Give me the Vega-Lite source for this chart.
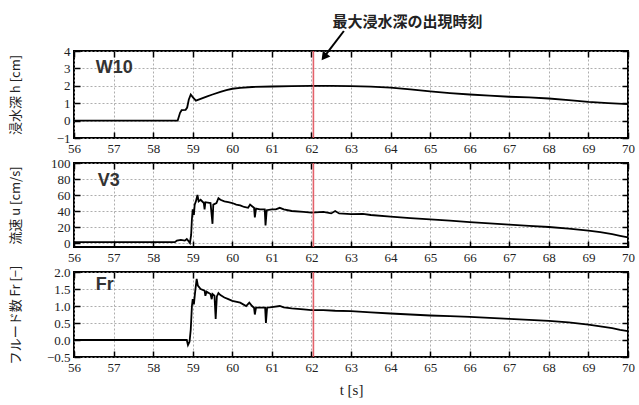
{
  "$schema": "https://vega.github.io/schema/vega-lite/v6.json",
  "background": "white",
  "padding": {"left": 8, "top": 13, "right": 5, "bottom": 2},
  "config": {
    "view": {"stroke": "black", "strokeWidth": 2},
    "axis": {"domain": false, "ticks": true, "tickColor": "black", "tickWidth": 1.5, "tickOpacity": 1, "labelOverlap": false, "labelFlush": false, "zindex": 1}
  },
  "datasets": {
    "w10": [
      {"t": 56.0, "h": 0}, {"t": 58.62, "h": 0}, {"t": 58.68, "h": 0.45}, {"t": 58.72, "h": 0.6},
      {"t": 58.82, "h": 0.62}, {"t": 58.86, "h": 0.75}, {"t": 58.9, "h": 1.2}, {"t": 58.95, "h": 1.5},
      {"t": 59.0, "h": 1.35}, {"t": 59.08, "h": 1.15}, {"t": 59.2, "h": 1.25}, {"t": 59.35, "h": 1.38},
      {"t": 59.5, "h": 1.5}, {"t": 59.7, "h": 1.65}, {"t": 59.85, "h": 1.75}, {"t": 60.0, "h": 1.83},
      {"t": 60.2, "h": 1.88}, {"t": 60.5, "h": 1.93}, {"t": 61.0, "h": 1.96}, {"t": 61.5, "h": 1.98},
      {"t": 62.0, "h": 2.0}, {"t": 62.5, "h": 2.0}, {"t": 63.0, "h": 1.98}, {"t": 63.5, "h": 1.95},
      {"t": 64.0, "h": 1.9}, {"t": 64.5, "h": 1.8}, {"t": 65.0, "h": 1.68}, {"t": 65.5, "h": 1.58},
      {"t": 66.0, "h": 1.5}, {"t": 66.5, "h": 1.43}, {"t": 67.0, "h": 1.37}, {"t": 67.5, "h": 1.33},
      {"t": 68.0, "h": 1.27}, {"t": 68.5, "h": 1.18}, {"t": 69.0, "h": 1.08}, {"t": 69.5, "h": 1.01},
      {"t": 70.0, "h": 0.95}
    ],
    "v3": [
      {"t": 56.0, "u": 1}, {"t": 57.0, "u": 1}, {"t": 58.0, "u": 1}, {"t": 58.55, "u": 1},
      {"t": 58.6, "u": 3}, {"t": 58.7, "u": 4}, {"t": 58.8, "u": 3}, {"t": 58.85, "u": 5},
      {"t": 58.9, "u": 2}, {"t": 58.93, "u": 0}, {"t": 58.96, "u": 10}, {"t": 58.98, "u": 30},
      {"t": 59.0, "u": 42}, {"t": 59.03, "u": 35}, {"t": 59.05, "u": 48}, {"t": 59.08, "u": 52},
      {"t": 59.12, "u": 60}, {"t": 59.15, "u": 52}, {"t": 59.2, "u": 54}, {"t": 59.28, "u": 50},
      {"t": 59.3, "u": 42}, {"t": 59.32, "u": 51}, {"t": 59.45, "u": 50}, {"t": 59.5, "u": 24},
      {"t": 59.52, "u": 48}, {"t": 59.6, "u": 50}, {"t": 59.65, "u": 56}, {"t": 59.7, "u": 54},
      {"t": 59.8, "u": 52}, {"t": 59.9, "u": 51}, {"t": 60.0, "u": 50}, {"t": 60.1, "u": 48},
      {"t": 60.2, "u": 47}, {"t": 60.3, "u": 45}, {"t": 60.4, "u": 44}, {"t": 60.45, "u": 48},
      {"t": 60.5, "u": 46}, {"t": 60.55, "u": 44}, {"t": 60.57, "u": 32}, {"t": 60.6, "u": 43},
      {"t": 60.7, "u": 42}, {"t": 60.82, "u": 42}, {"t": 60.84, "u": 22}, {"t": 60.87, "u": 41},
      {"t": 61.0, "u": 42}, {"t": 61.1, "u": 42}, {"t": 61.2, "u": 44}, {"t": 61.3, "u": 42},
      {"t": 61.5, "u": 40}, {"t": 61.8, "u": 39}, {"t": 62.0, "u": 38}, {"t": 62.3, "u": 39},
      {"t": 62.5, "u": 37}, {"t": 62.6, "u": 40}, {"t": 62.7, "u": 37}, {"t": 63.0, "u": 36},
      {"t": 63.3, "u": 36.5}, {"t": 63.5, "u": 35}, {"t": 64.0, "u": 33}, {"t": 64.5, "u": 31},
      {"t": 65.0, "u": 29.5}, {"t": 65.5, "u": 28}, {"t": 66.0, "u": 26}, {"t": 66.5, "u": 24.5},
      {"t": 67.0, "u": 23}, {"t": 67.5, "u": 21.5}, {"t": 68.0, "u": 20}, {"t": 68.5, "u": 18},
      {"t": 69.0, "u": 15.5}, {"t": 69.3, "u": 13.5}, {"t": 69.6, "u": 11}, {"t": 69.8, "u": 9},
      {"t": 70.0, "u": 7}
    ],
    "fr": [
      {"t": 56.0, "fr": 0}, {"t": 58.85, "fr": 0}, {"t": 58.88, "fr": -0.15}, {"t": 58.92, "fr": -0.05},
      {"t": 58.95, "fr": 0.3}, {"t": 58.98, "fr": 1.0}, {"t": 59.0, "fr": 1.2}, {"t": 59.03, "fr": 1.05},
      {"t": 59.06, "fr": 1.4}, {"t": 59.1, "fr": 1.8}, {"t": 59.13, "fr": 1.6}, {"t": 59.2, "fr": 1.5},
      {"t": 59.3, "fr": 1.45}, {"t": 59.32, "fr": 1.3}, {"t": 59.35, "fr": 1.42}, {"t": 59.45, "fr": 1.35},
      {"t": 59.48, "fr": 1.2}, {"t": 59.5, "fr": 1.35}, {"t": 59.55, "fr": 1.3}, {"t": 59.58, "fr": 0.62},
      {"t": 59.61, "fr": 1.28}, {"t": 59.65, "fr": 1.38}, {"t": 59.7, "fr": 1.32}, {"t": 59.8, "fr": 1.25},
      {"t": 59.9, "fr": 1.2}, {"t": 60.0, "fr": 1.15}, {"t": 60.2, "fr": 1.1}, {"t": 60.35, "fr": 1.0},
      {"t": 60.43, "fr": 1.1}, {"t": 60.5, "fr": 1.0}, {"t": 60.55, "fr": 0.95}, {"t": 60.57, "fr": 0.75},
      {"t": 60.6, "fr": 0.95}, {"t": 60.7, "fr": 0.95}, {"t": 60.83, "fr": 0.95}, {"t": 60.85, "fr": 0.5},
      {"t": 60.88, "fr": 0.95}, {"t": 61.0, "fr": 0.97}, {"t": 61.2, "fr": 1.0}, {"t": 61.3, "fr": 0.96},
      {"t": 61.5, "fr": 0.93}, {"t": 61.8, "fr": 0.9}, {"t": 62.0, "fr": 0.88}, {"t": 62.3, "fr": 0.88},
      {"t": 62.6, "fr": 0.86}, {"t": 63.0, "fr": 0.85}, {"t": 63.5, "fr": 0.81}, {"t": 64.0, "fr": 0.78},
      {"t": 64.5, "fr": 0.75}, {"t": 65.0, "fr": 0.72}, {"t": 65.5, "fr": 0.7}, {"t": 66.0, "fr": 0.68},
      {"t": 66.5, "fr": 0.65}, {"t": 67.0, "fr": 0.62}, {"t": 67.5, "fr": 0.59}, {"t": 68.0, "fr": 0.56},
      {"t": 68.5, "fr": 0.52}, {"t": 69.0, "fr": 0.45}, {"t": 69.3, "fr": 0.4}, {"t": 69.6, "fr": 0.35},
      {"t": 69.8, "fr": 0.3}, {"t": 70.0, "fr": 0.26}
    ],
    "marker": [{"t": 62.05}]
  },
  "bounds": "flush",
  "spacing": 25,
  "vconcat": [
    {
      "width": 554, "height": 87,
      "resolve": {"axis": {"x": "independent", "y": "independent"}},
      "layer": [
        {
          "data": {"name": "w10"},
          "mark": {"type": "line", "color": "black", "strokeWidth": 1.8},
          "encoding": {
            "x": {"field": "t", "type": "quantitative", "scale": {"domain": [56, 70], "nice": false, "zero": false},
              "axis": {"orient": "bottom", "tickCount": 14, "grid": true, "gridDash": [2, 2], "gridColor": "#999", "gridWidth": 0.8,
                "tickSize": -6, "tickColor": "black", "tickWidth": 1.5, "format": "d",
                "labelPadding": 10, "labelFont": "Liberation Serif", "labelFontSize": 13, "labelColor": "#222", "title": null}},
            "y": {"field": "h", "type": "quantitative", "scale": {"domain": [-1, 4], "nice": false, "zero": false},
              "axis": {"orient": "left", "tickCount": 5, "grid": true, "gridDash": [2, 2], "gridColor": "#999", "gridWidth": 0.8,
                "tickSize": -6, "tickColor": "black", "tickWidth": 1.5, "format": "d",
                "labelPadding": 10, "labelFont": "Liberation Serif", "labelFontSize": 13, "labelColor": "#222",
                "title": "浸水深 h [cm]", "titleFont": "Noto Sans CJK JP", "titleFontSize": 13, "titleFontWeight": "normal", "titleColor": "#222",
                "titleAngle": -90, "titleBaseline": "bottom", "titleX": -52}}
          }
        },
        {
          "data": {"name": "marker"},
          "mark": {"type": "rule", "color": "#e0505a", "strokeWidth": 1.6, "opacity": 0.9},
          "encoding": {
            "x": {"field": "t", "type": "quantitative", "scale": {"domain": [56, 70], "nice": false, "zero": false},
              "axis": {"orient": "top", "tickCount": 14, "grid": false, "labels": false, "title": null, "tickSize": -6, "tickColor": "black", "tickWidth": 1.5}}
          }
        },
        {
          "data": {"values": [{"t": 56.55, "v": 3, "label": "W10"}]},
          "mark": {"type": "text", "align": "left", "baseline": "middle", "font": "Liberation Sans", "fontSize": 18, "fontWeight": "bold", "color": "#333"},
          "encoding": {
            "x": {"field": "t", "type": "quantitative", "scale": {"domain": [56, 70], "nice": false, "zero": false}, "axis": null},
            "y": {"field": "v", "type": "quantitative", "scale": {"domain": [-1, 4], "nice": false, "zero": false},
              "axis": {"orient": "right", "tickCount": 5, "grid": false, "labels": false, "title": null, "tickSize": -6, "tickColor": "black", "tickWidth": 1.5}},
            "text": {"field": "label"}
          }
        },
        {
          "data": {"values": [{"t": 64.43, "v": 5.68, "label": "最大浸水深の出現時刻"}]},
          "mark": {"type": "text", "align": "center", "baseline": "middle", "font": "Noto Sans CJK JP", "fontSize": 15, "fontWeight": "bold", "color": "#222"},
          "encoding": {
            "x": {"field": "t", "type": "quantitative", "scale": {"domain": [56, 70], "nice": false, "zero": false}, "axis": null},
            "y": {"field": "v", "type": "quantitative", "scale": {"domain": [-1, 4], "nice": false, "zero": false}, "axis": null},
            "text": {"field": "label"}
          }
        },
        {
          "data": {"values": [{"t": 62.82, "v": 5.15, "t2": 62.32, "v2": 3.66}]},
          "mark": {"type": "rule", "color": "black", "strokeWidth": 2},
          "encoding": {
            "x": {"field": "t", "type": "quantitative", "scale": {"domain": [56, 70], "nice": false, "zero": false}, "axis": null},
            "y": {"field": "v", "type": "quantitative", "scale": {"domain": [-1, 4], "nice": false, "zero": false}, "axis": null},
            "x2": {"field": "t2"},
            "y2": {"field": "v2"}
          }
        },
        {
          "data": {"values": [{"t": 62.32, "v": 3.66}]},
          "mark": {"type": "point", "shape": "triangle-up", "filled": true, "color": "black", "opacity": 1, "size": 90, "angle": 217.5},
          "encoding": {
            "x": {"field": "t", "type": "quantitative", "scale": {"domain": [56, 70], "nice": false, "zero": false}, "axis": null},
            "y": {"field": "v", "type": "quantitative", "scale": {"domain": [-1, 4], "nice": false, "zero": false}, "axis": null}
          }
        }
      ]
    },
    {
      "width": 554, "height": 84,
      "resolve": {"axis": {"x": "independent", "y": "independent"}},
      "layer": [
        {
          "data": {"name": "v3"},
          "mark": {"type": "line", "color": "black", "strokeWidth": 1.8},
          "encoding": {
            "x": {"field": "t", "type": "quantitative", "scale": {"domain": [56, 70], "nice": false, "zero": false},
              "axis": {"orient": "bottom", "tickCount": 14, "grid": true, "gridDash": [2, 2], "gridColor": "#999", "gridWidth": 0.8,
                "tickSize": -6, "tickColor": "black", "tickWidth": 1.5, "format": "d",
                "labelPadding": 10, "labelFont": "Liberation Serif", "labelFontSize": 13, "labelColor": "#222", "title": null}},
            "y": {"field": "u", "type": "quantitative", "scale": {"domain": [-5, 100], "nice": false, "zero": false},
              "axis": {"orient": "left", "values": [0, 20, 40, 60, 80, 100], "grid": true, "gridDash": [2, 2], "gridColor": "#999", "gridWidth": 0.8,
                "tickSize": -6, "tickColor": "black", "tickWidth": 1.5, "format": "d",
                "labelPadding": 10, "labelFont": "Liberation Serif", "labelFontSize": 13, "labelColor": "#222",
                "title": "流速 u [cm/s]", "titleFont": "Noto Sans CJK JP", "titleFontSize": 13, "titleFontWeight": "normal", "titleColor": "#222",
                "titleAngle": -90, "titleBaseline": "bottom", "titleX": -52}}
          }
        },
        {
          "data": {"name": "marker"},
          "mark": {"type": "rule", "color": "#e0505a", "strokeWidth": 1.6, "opacity": 0.9},
          "encoding": {
            "x": {"field": "t", "type": "quantitative", "scale": {"domain": [56, 70], "nice": false, "zero": false},
              "axis": {"orient": "top", "tickCount": 14, "grid": false, "labels": false, "title": null, "tickSize": -6, "tickColor": "black", "tickWidth": 1.5}}
          }
        },
        {
          "data": {"values": [{"t": 56.6, "v": 77, "label": "V3"}]},
          "mark": {"type": "text", "align": "left", "baseline": "middle", "font": "Liberation Sans", "fontSize": 18, "fontWeight": "bold", "color": "#333"},
          "encoding": {
            "x": {"field": "t", "type": "quantitative", "scale": {"domain": [56, 70], "nice": false, "zero": false}, "axis": null},
            "y": {"field": "v", "type": "quantitative", "scale": {"domain": [-5, 100], "nice": false, "zero": false},
              "axis": {"orient": "right", "values": [0, 20, 40, 60, 80, 100], "grid": false, "labels": false, "title": null, "tickSize": -6, "tickColor": "black", "tickWidth": 1.5}},
            "text": {"field": "label"}
          }
        }
      ]
    },
    {
      "width": 554, "height": 85,
      "resolve": {"axis": {"x": "independent", "y": "independent"}},
      "layer": [
        {
          "data": {"name": "fr"},
          "mark": {"type": "line", "color": "black", "strokeWidth": 1.8},
          "encoding": {
            "x": {"field": "t", "type": "quantitative", "scale": {"domain": [56, 70], "nice": false, "zero": false},
              "axis": {"orient": "bottom", "tickCount": 14, "grid": true, "gridDash": [2, 2], "gridColor": "#999", "gridWidth": 0.8,
                "tickSize": -6, "tickColor": "black", "tickWidth": 1.5, "format": "d",
                "labelPadding": 10, "labelFont": "Liberation Serif", "labelFontSize": 13, "labelColor": "#222",
                "title": "t [s]", "titleFont": "Liberation Serif", "titleFontSize": 15, "titleFontWeight": "normal", "titleColor": "#222", "titlePadding": 8}},
            "y": {"field": "fr", "type": "quantitative", "scale": {"domain": [-0.5, 2], "nice": false, "zero": false},
              "axis": {"orient": "left", "tickCount": 5, "grid": true, "gridDash": [2, 2], "gridColor": "#999", "gridWidth": 0.8,
                "tickSize": -6, "tickColor": "black", "tickWidth": 1.5, "format": ".1f",
                "labelPadding": 10, "labelFont": "Liberation Serif", "labelFontSize": 13, "labelColor": "#222",
                "title": "フルード数 Fr [−]", "titleFont": "Noto Sans CJK JP", "titleFontSize": 13, "titleFontWeight": "normal", "titleColor": "#222",
                "titleAngle": -90, "titleBaseline": "bottom", "titleX": -52}}
          }
        },
        {
          "data": {"name": "marker"},
          "mark": {"type": "rule", "color": "#e0505a", "strokeWidth": 1.6, "opacity": 0.9},
          "encoding": {
            "x": {"field": "t", "type": "quantitative", "scale": {"domain": [56, 70], "nice": false, "zero": false},
              "axis": {"orient": "top", "tickCount": 14, "grid": false, "labels": false, "title": null, "tickSize": -6, "tickColor": "black", "tickWidth": 1.5}}
          }
        },
        {
          "data": {"values": [{"t": 56.55, "v": 1.62, "label": "Fr"}]},
          "mark": {"type": "text", "align": "left", "baseline": "middle", "font": "Liberation Sans", "fontSize": 18, "fontWeight": "bold", "color": "#333"},
          "encoding": {
            "x": {"field": "t", "type": "quantitative", "scale": {"domain": [56, 70], "nice": false, "zero": false}, "axis": null},
            "y": {"field": "v", "type": "quantitative", "scale": {"domain": [-0.5, 2], "nice": false, "zero": false},
              "axis": {"orient": "right", "tickCount": 5, "grid": false, "labels": false, "title": null, "tickSize": -6, "tickColor": "black", "tickWidth": 1.5}},
            "text": {"field": "label"}
          }
        }
      ]
    }
  ]
}
